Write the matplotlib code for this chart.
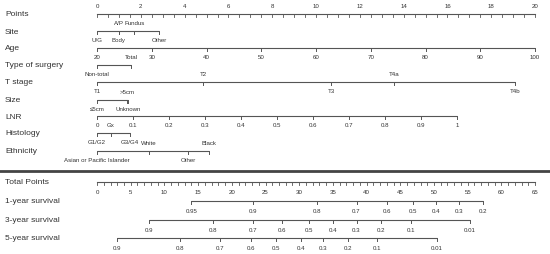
import matplotlib.pyplot as plt
import numpy as np

plt.rcParams['font.family'] = ['Liberation Sans', 'DejaVu Sans']

# points scale
points_ticks = np.arange(0, 21, 2)
points_minor = np.arange(0, 20.5, 0.5)

# categorical predictors: (label, points, label above the line?)
site = [('U/G', 0, False), ('Body', 1.0, False), ('A/P', 1.0, True),
        ('Fundus', 1.7, True), ('Other', 2.83, False)]
age_ticks = [20, 30, 40, 50, 60, 70, 80, 90, 100]
age_max_pts = 20.0
surgery = [('Non-total', 0, False), ('Total', 1.55, True)]
tstage = [('T1', 0, False), ('T2', 4.84, True), ('T3', 10.7, False),
          ('T4a', 13.56, True), ('T4b', 19.1, False)]
size = [('\u22645cm', 0, False), ('>5cm', 1.37, True), ('Unknown', 1.4, False)]
lnr_ticks = [0, 0.1, 0.2, 0.3, 0.4, 0.5, 0.6, 0.7, 0.8, 0.9, 1]
lnr_max_pts = 16.45
histology = [('G1/G2', 0, False), ('Gx', 0.64, True), ('G3/G4', 1.5, False)]
ethnicity = [('Asian or Pacific Islander', 0, False), ('White', 2.37, True),
             ('Other', 4.16, False), ('Black', 5.1, True)]

# total points and survival
total_max = 65
total_ticks = np.arange(0, 66, 5)
surv_1y = [0.95, 0.9, 0.8, 0.7, 0.6, 0.5, 0.4, 0.3, 0.2]
surv_1y_tp = [14.0, 23.1, 32.6, 38.5, 43.0, 46.9, 50.3, 53.7, 57.3]
surv_3y = [0.9, 0.8, 0.7, 0.6, 0.5, 0.4, 0.3, 0.2, 0.1, 0.01]
surv_3y_tp = [7.7, 17.2, 23.1, 27.5, 31.5, 35.0, 38.5, 42.1, 46.6, 55.3]
surv_5y = [0.9, 0.8, 0.7, 0.6, 0.5, 0.4, 0.3, 0.2, 0.1, 0.01]
surv_5y_tp = [2.9, 12.3, 18.3, 22.8, 26.6, 30.2, 33.5, 37.2, 41.6, 50.4]

LC = '#555555'
TC = '#333333'
TICK = 2.5
fs_row = 6.0
fs_tick = 4.4

fig = plt.figure(figsize=(5.5, 2.55), dpi=100)
ax = fig.add_axes([0, 0, 1, 1])
ax.set_xlim(-4.43, 20.68)
ax.set_ylim(255, 0)
ax.axis('off')

row_x = -4.2


def row_label(y, text):
    ax.text(row_x, y, text, fontsize=fs_row, color=TC, va='center', ha='left')


def scale_line(y, xs, labels, above, lab_off=8.5):
    ax.plot([min(xs), max(xs)], [y, y], color=LC, lw=0.8, solid_capstyle='butt')
    for x, lab, up in zip(xs, labels, above):
        ax.plot([x, x], [y, y + TICK], color=LC, lw=0.7)
        yy = y - lab_off if up else y + lab_off
        ax.text(x, yy, lab, fontsize=fs_tick, color=TC, ha='center', va='center')


def cat_row(y, label, items):
    row_label(y, label)
    scale_line(y, [p for _, p, _ in items], [l for l, _, _ in items],
               [u for _, _, u in items])


# Points
row_label(15, 'Points')
ax.plot([0, 20], [15, 15], color=LC, lw=0.8)
for v in points_minor:
    ax.plot([v, v], [15, 15 + TICK], color=LC, lw=0.6)
for v in points_ticks:
    ax.text(v, 7, str(v), fontsize=fs_tick, color=TC, ha='center', va='center')

cat_row(32, 'Site', site)

row_label(49, 'Age')
age_pts = [(a - 20) / 80 * age_max_pts for a in age_ticks]
scale_line(49, age_pts, [str(a) for a in age_ticks], [False] * len(age_ticks))

cat_row(66, 'Type of surgery', surgery)
cat_row(83, 'T stage', tstage)
cat_row(101, 'Size', size)

row_label(118, 'LNR')
lnr_pts = [v * lnr_max_pts for v in lnr_ticks]
scale_line(117, lnr_pts, [f'{v:g}' for v in lnr_ticks], [False] * len(lnr_ticks))

cat_row(134, 'Histology', histology)
cat_row(152, 'Ethnicity', ethnicity)

# separator
ax.plot([-4.43, 20.68], [172, 172], color='#444444', lw=2.0)

# Total points
k = 20 / total_max
row_label(183, 'Total Points')
ax.plot([0, 20], [183, 183], color=LC, lw=0.8)
for v in range(0, total_max + 1):
    ax.plot([v * k, v * k], [183, 183 + TICK], color=LC, lw=0.6)
for v in total_ticks:
    ax.text(v * k, 193, str(v), fontsize=fs_tick, color=TC, ha='center', va='center')

for y, name, probs, tps in [(202, '1-year survival', surv_1y, surv_1y_tp),
                            (221, '3-year survival', surv_3y, surv_3y_tp),
                            (239, '5-year survival', surv_5y, surv_5y_tp)]:
    row_label(y, name)
    scale_line(y, [t * k for t in tps], [f'{p:g}' for p in probs],
               [False] * len(probs), lab_off=9.5)

fig.savefig('out.png', dpi=100)
